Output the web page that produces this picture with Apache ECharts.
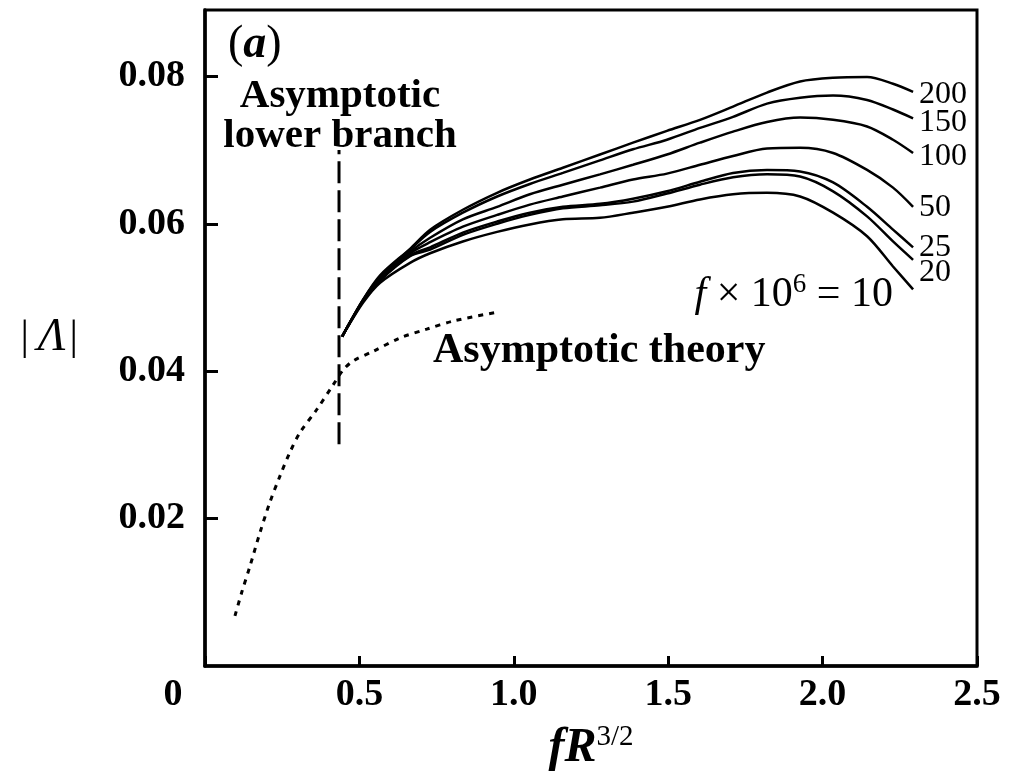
<!DOCTYPE html>
<html>
<head>
<meta charset="utf-8">
<title>|Λ| against fR^3/2</title>
<script src="https://cdn.jsdelivr.net/npm/echarts@6.0.0/dist/echarts.min.js"></script>
<style>
  html, body { margin: 0; padding: 0; background: #fff; }
  #main { width: 1023px; height: 773px; }
</style>
</head>
<body>
<div id="main"></div>
<script>
// fR^{3/2} positions shared by the numerical curves
const xs = [0.444, 0.512, 0.567, 0.664, 0.729, 0.835, 0.946, 1.052, 1.159, 1.279,
  1.386, 1.496, 1.603, 1.710, 1.820, 1.927, 2.034, 2.144, 2.228, 2.293];

// |Λ| for f x 10^6 = 200, 150, 100, 50, 25, 20, 10
const f200 = [0.0447, 0.0497, 0.0530, 0.0566, 0.0592, 0.0619, 0.0642, 0.0660, 0.0676, 0.0694,
  0.0710, 0.0726, 0.0741, 0.0759, 0.0778, 0.0793, 0.0798, 0.0799, 0.0790, 0.0779];
const f150 = [0.0447, 0.0497, 0.0528, 0.0565, 0.0589, 0.0615, 0.0637, 0.0654, 0.0669, 0.0686,
  0.0701, 0.0714, 0.0730, 0.0745, 0.0763, 0.0771, 0.0774, 0.0768, 0.0755, 0.0743];
const f100 = [0.0447, 0.0496, 0.0527, 0.0562, 0.0581, 0.0606, 0.0623, 0.0640, 0.0653, 0.0667,
  0.0680, 0.0694, 0.0710, 0.0725, 0.0738, 0.0744, 0.0741, 0.0732, 0.0714, 0.0696];
const f50 = [0.0447, 0.0496, 0.0526, 0.0560, 0.0575, 0.0596, 0.0612, 0.0626, 0.0637, 0.0649,
  0.0660, 0.0668, 0.0680, 0.0692, 0.0702, 0.0703, 0.0696, 0.0673, 0.0649, 0.0623];
const f25 = [0.0447, 0.0495, 0.0524, 0.0557, 0.0568, 0.0588, 0.0603, 0.0615, 0.0623, 0.0627,
  0.0634, 0.0644, 0.0657, 0.0669, 0.0673, 0.0671, 0.0656, 0.0623, 0.0592, 0.0568];
const f20 = [0.0447, 0.0495, 0.0523, 0.0556, 0.0565, 0.0585, 0.0600, 0.0612, 0.0621, 0.0625,
  0.0630, 0.0641, 0.0653, 0.0663, 0.0667, 0.0664, 0.0644, 0.0610, 0.0576, 0.0551];
const f10 = [0.0447, 0.0493, 0.0520, 0.0547, 0.0560, 0.0576, 0.0589, 0.0599, 0.0606, 0.0608,
  0.0615, 0.0623, 0.0633, 0.0640, 0.0642, 0.0637, 0.0615, 0.0583, 0.0542, 0.0511];

// asymptotic theory (dotted)
const theoryX = [0.097, 0.119, 0.146, 0.178, 0.210, 0.243, 0.275, 0.308, 0.362, 0.416,
  0.448, 0.480, 0.545, 0.631, 0.718, 0.804, 0.945];
const theoryY = [0.0068, 0.0100, 0.0136, 0.0181, 0.0222, 0.0258, 0.0290, 0.0317, 0.0348, 0.0382,
  0.0402, 0.0414, 0.0427, 0.0445, 0.0457, 0.0468, 0.0480];

// asymptotic lower branch (vertical dashed)
const branchX = [0.434, 0.434];
const branchY = [0.0301, 0.0700];

const yTicks = [0.02, 0.04, 0.06, 0.08];

const font = "'Liberation Serif', 'Times New Roman', serif";

const curves = [
  { name: "200", y: f200, dy: 3 },
  { name: "150", y: f150, dy: 4 },
  { name: "100", y: f100, dy: 4 },
  { name: "50", y: f50, dy: 1 },
  { name: "25", y: f25, dy: 0 },
  { name: "20", y: f20, dy: 13 },
  { name: "10", y: f10, dy: null }
];

const chart = echarts.init(document.getElementById("main"));

const series = curves.map(c => ({
  name: c.name,
  type: "line",
  data: xs.map((x, i) => [x, c.y[i]]),
  showSymbol: false,
  smooth: 0.3,
  silent: true,
  lineStyle: { color: "#000", width: 2.5 },
  endLabel: {
    show: c.dy !== null,
    formatter: c.name,
    distance: 6,
    offset: [0, c.dy || 0],
    color: "#000",
    fontFamily: font,
    fontSize: 32
  }
}));

series.push({
  name: "Asymptotic theory",
  type: "line",
  data: theoryX.map((x, i) => [x, theoryY[i]]),
  showSymbol: false,
  smooth: 0.3,
  silent: true,
  lineStyle: { color: "#000", width: 3, type: [5, 6] }
});

series.push({
  name: "Asymptotic lower branch",
  type: "line",
  data: branchX.map((x, i) => [x, branchY[i]]),
  showSymbol: false,
  silent: true,
  lineStyle: { color: "#000", width: 3, type: [22, 7] }
});

chart.setOption({
  animation: false,
  backgroundColor: "#fff",
  grid: {
    left: 205,
    right: 46,
    top: 10,
    bottom: 107,
    outerBoundsMode: "none",
    show: true,
    borderColor: "#000",
    borderWidth: 3
  },
  xAxis: {
    type: "value",
    min: 0,
    max: 2.5,
    interval: 0.5,
    name: "{i|fR}{sup|3/2}",
    nameLocation: "middle",
    nameGap: 57,
    nameTextStyle: {
      color: "#000",
      fontFamily: font,
      fontSize: 48,
      rich: {
        i: { fontFamily: font, fontSize: 48, fontStyle: "italic", fontWeight: "bold", color: "#000" },
        sup: { fontFamily: font, fontSize: 29, color: "#000", padding: [0, 0, 22, 0] }
      }
    },
    axisLine: { lineStyle: { color: "#000", width: 3.5 } },
    axisTick: { inside: true, length: 10, lineStyle: { color: "#000", width: 3 } },
    splitLine: { show: false },
    axisLabel: {
      margin: 10,
      color: "#000",
      fontFamily: font,
      fontSize: 38,
      fontWeight: "bold",
      formatter: v => (v === 0 ? "{z|0}" : v.toFixed(1)),
      rich: {
        z: { fontFamily: font, fontSize: 38, fontWeight: "bold", color: "#000", padding: [0, 64, 0, 0] }
      }
    }
  },
  yAxis: {
    type: "value",
    min: 0,
    max: 0.089,
    name: "|{it|Λ}|",
    nameLocation: "middle",
    nameRotate: 0,
    nameGap: 127,
    nameTextStyle: {
      color: "#000",
      fontFamily: font,
      fontSize: 42,
      rich: {
        it: { fontFamily: font, fontSize: 46, fontStyle: "italic", color: "#000", padding: [0, 4, 0, 9] }
      }
    },
    axisLine: { lineStyle: { color: "#000", width: 3.5 } },
    axisTick: {
      inside: true,
      length: 13,
      customValues: yTicks,
      lineStyle: { color: "#000", width: 3 }
    },
    splitLine: { show: false },
    axisLabel: {
      margin: 20,
      color: "#000",
      fontFamily: font,
      fontSize: 38,
      fontWeight: "bold",
      customValues: yTicks,
      formatter: v => v.toFixed(2)
    }
  },
  graphic: [
    {
      type: "text",
      left: 228,
      top: 22,
      style: {
        text: "({a|a})",
        fill: "#000",
        font: "46px " + font,
        rich: {
          a: { fontFamily: font, fontSize: 46, fontStyle: "italic", fontWeight: "bold", fill: "#000" }
        }
      }
    },
    {
      type: "text",
      x: 340,
      y: 116,
      style: {
        text: "Asymptotic\nlower branch",
        fill: "#000",
        font: "bold 41px " + font,
        lineHeight: 40,
        align: "center",
        verticalAlign: "middle"
      }
    },
    {
      type: "text",
      x: 433,
      y: 351,
      style: {
        text: "Asymptotic theory",
        fill: "#000",
        font: "bold 42px " + font,
        align: "left",
        verticalAlign: "middle"
      }
    },
    {
      type: "text",
      x: 893,
      y: 295,
      style: {
        text: "{i|f} × 10{s|6} = 10",
        fill: "#000",
        font: "42px " + font,
        align: "right",
        verticalAlign: "middle",
        rich: {
          i: { fontFamily: font, fontSize: 42, fontStyle: "italic", fill: "#000" },
          s: { fontFamily: font, fontSize: 27, fill: "#000", padding: [0, 0, 20, 0] }
        }
      }
    }
  ],
  series: series
});
</script>
</body>
</html>
